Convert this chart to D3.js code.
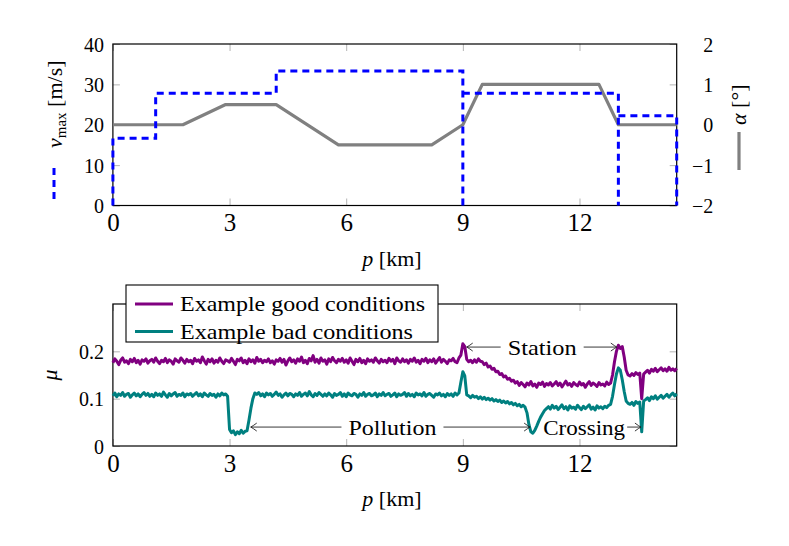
<!DOCTYPE html>
<html><head><meta charset="utf-8">
<script src="https://cdn.jsdelivr.net/npm/d3@7"></script>
<style>
body{margin:0;background:#fff}
svg{display:block}
text{font-family:"Liberation Serif","Times New Roman",serif;fill:#000}
</style>
</head><body>
<svg id="chart" width="789" height="546"></svg>
<script>
// ---------------- data ----------------
const xTicks = [0, 3, 6, 9, 12];
const vmaxTicks = [0, 10, 20, 30, 40];
const alphaTicks = [-2, -1, 0, 1, 2];
const muTicks = [0, 0.1, 0.2];

// speed limit profile (m/s) – step function (null = pen up)
const vmaxP = [0, 0, 1.1, 1.1, 4.2, 4.2, 9, 9, 9, 9, 13, 13, 13, 13, 14.5, 14.5];
const vmaxV = [0, 16.67, 16.67, 27.78, 27.78, 33.33, 33.33, 0, null, 27.78, 27.78, 0, null, 22.22, 22.22, 0];

// slope profile (degrees)
const alphaP = [0, 1.8, 2.9, 4.2, 5.8, 8.2, 9.0, 9.5, 12.5, 13.0, 14.5];
const alphaV = [0, 0, 0.5, 0.5, -0.5, -0.5, 0, 1, 1, 0, 0];

// friction coefficient samples, every 0.05 km from 0 to 14.5 km
const muStepKm = 0.05;
const muGood = [
.176,.184,.179,.172,.181,.186,.177,.180,.174,.183,.178,.185,.176,.181,.173,.182,.179,.184,.175,.180,
.183,.177,.186,.179,.174,.181,.178,.185,.176,.182,.179,.173,.184,.180,.177,.186,.181,.175,.183,.178,
.181,.174,.185,.179,.182,.176,.188,.180,.173,.183,.178,.184,.175,.181,.177,.186,.179,.174,.182,.180,
.177,.185,.179,.172,.183,.180,.186,.176,.181,.174,.184,.178,.182,.175,.187,.179,.183,.176,.181,.178,
.184,.176,.180,.173,.182,.179,.185,.177,.183,.171,.180,.186,.178,.182,.175,.184,.179,.188,.176,.181,
.174,.185,.180,.191,.177,.183,.175,.186,.179,.182,.173,.184,.178,.187,.180,.176,.183,.179,.185,.177,
.182,.175,.186,.179,.172,.183,.178,.185,.176,.181,.174,.184,.179,.182,.177,.186,.180,.175,.183,.178,
.181,.176,.185,.179,.183,.174,.186,.180,.177,.184,.178,.182,.175,.183,.179,.186,.177,.181,.174,.183,
.179,.185,.176,.182,.178,.184,.175,.181,.187,.177,.183,.179,.174,.182,.180,.185,.178,.176,.186,.192,
.216,.210,.183,
.178,.181,.176,.182,.177,.184,.179,
.178,.172,.175,.167,.169,.162,.164,.157,.158,.151,.153,.146,.148,.141,.143,.137,.139,.133,.136,
.128,.134,.130,.125,.133,.129,.136,.127,.131,.124,.133,.130,.135,.126,.132,.129,.134,.127,.131,.136,
.128,.133,.125,.131,.137,.129,.132,.126,.134,.130,.127,.135,.129,.132,.124,.131,.136,.128,.133,.130,
.126,.134,.129,.131,.127,.135,.130,.133,
.150,.178,.200,.213,.206,.210,.188,.160,.150,
.148,.153,.149,.155,.151,.154,
.100,.152,
.156,.160,.154,.162,.158,.164,.157,.161,.165,.159,.163,.158,.166,.160,.163,.159,.164
];
const muBad = [
.106,.112,.104,.110,.107,.113,.105,.109,.111,.103,.108,.112,.106,.110,.104,.109,.113,.107,.111,.105,
.109,.104,.112,.107,.110,.105,.114,.108,.103,.111,.106,.110,.113,.105,.109,.107,.112,.104,.110,.108,
.111,.105,.109,.113,.106,.110,.104,.112,.108,.105,.111,.107,.109,.103,.110,.106,.112,.108,.110,
.105,.035,.028,.032,.024,.030,.026,.033,.027,.031,.032,.055,.080,.100,.112,
.109,.113,.106,.110,.104,.112,.108,.111,.105,.109,.114,.107,.110,.103,.108,.112,.106,.111,.109,.104,
.110,.107,.113,.105,.109,.112,.106,.115,.108,.104,.111,.107,.113,.109,.105,.110,.106,.112,.108,.103,
.111,.107,.109,.113,.105,.110,.104,.112,.108,.106,.111,.109,.103,.110,.107,.113,.105,.109,.111,.106,
.108,.112,.104,.110,.107,.113,.106,.109,.111,.105,.108,.112,.104,.110,.107,.109,.113,.105,.111,.106,
.109,.104,.112,.108,.110,.106,.113,.105,.109,.111,.107,.103,.110,.108,.112,.106,.109,.104,.111,.107,
.110,.105,.112,.108,.112,.135,.157,.148,.108,
.106,.102,.107,.103,.105,.100,.104,.099,.103,.098,.101,.097,.100,.095,.098,.094,.097,.092,.095,.091,
.094,.089,.092,.087,.090,.085,.088,.083,.086,.082,
.070,.045,.030,.027,.033,.042,.052,.061,.068,.075,.079,
.083,.078,.086,.080,.084,.077,.082,.087,.079,.083,.076,.085,.080,.082,.078,.086,.081,.077,.084,.079,
.083,.087,.078,.082,.076,.085,.080,.083,.079,.084,.081,.086,
.088,.105,.130,.152,.165,.160,.140,.115,.095,.090,
.088,.092,.086,.094,.090,.093,
.030,.095,
.098,.102,.096,.104,.100,.106,.099,.103,.107,.101,.105,.109,.103,.108,.112,.106,.110
];
const legendLabels = ["Example good conditions", "Example bad conditions"];

// annotations: label, text centre (km), level (mu), arrow tips (km)
const annLabels = ["Station", "Pollution", "Crossing"];
const annCenter = [11.04, 7.19, 12.12];
const annMu = [0.209, 0.040, 0.040];
const annLeftTip = [9.10, 3.545, null];
const annRightTip = [12.96, 10.73, 13.58];

// ---------------- layout ----------------
const svg = d3.select("#chart");
const L = 112.9, R = 676.7;
const top1 = 44, bot1 = 205.5;
const top2 = 304, bot2 = 446;
const serif = '"Liberation Serif","Times New Roman",serif';
const tickGray = "#b4b4b4";

const x = d3.scaleLinear([0, 14.5], [L, R]);
const yV = d3.scaleLinear([0, 40], [bot1, top1]);
const yA = d3.scaleLinear([-2, 2], [bot1, top1]);
const yM = d3.scaleLinear([0, 0.3], [bot2, top2]);

function styleAxis(g, fs) {
  g.attr("font-family", serif);
  g.select(".domain").remove();
  g.selectAll(".tick line").attr("stroke", tickGray).attr("stroke-width", 1);
  g.selectAll(".tick text").attr("font-size", fs).attr("fill", "#000");
}

function xAxes(topY, botY) {
  const gb = svg.append("g").attr("transform", `translate(0,${botY})`)
    .call(d3.axisBottom(x).tickValues(xTicks).tickSize(-7).tickFormat(d3.format("d")));
  styleAxis(gb, 25);
  gb.selectAll(".tick text").attr("dy", null).attr("y", 25.5);
  const gt = svg.append("g").attr("transform", `translate(0,${topY})`)
    .call(d3.axisTop(x).tickValues(xTicks).tickSize(-7).tickFormat(""));
  styleAxis(gt, 25);
}

// ---- top panel ----
xAxes(top1, bot1);
const gl = svg.append("g").attr("transform", `translate(${L},0)`)
  .call(d3.axisLeft(yV).tickValues(vmaxTicks).tickSize(-7).tickPadding(9).tickFormat(d3.format("d")));
styleAxis(gl, 20);
gl.selectAll(".tick text").attr("dy", null).attr("y", 7);

const gr = svg.append("g").attr("transform", `translate(${R},0)`)
  .call(d3.axisRight(yA).tickValues(alphaTicks).tickSize(-7).tickFormat(d3.format("d")));
styleAxis(gr, 20);
gr.selectAll(".tick text").attr("dy", null).attr("y", 7).attr("x", 36.5).attr("text-anchor", "end");

svg.append("rect").attr("x", L).attr("y", top1).attr("width", R - L).attr("height", bot1 - top1)
  .attr("fill", "none").attr("stroke", "#000").attr("stroke-width", 1.2);

const idxA = d3.range(alphaP.length);
svg.append("path")
  .attr("d", d3.line().x(i => x(alphaP[i])).y(i => yA(alphaV[i]))(idxA))
  .attr("fill", "none").attr("stroke", "#808080").attr("stroke-width", 3.2).attr("stroke-linejoin", "round");

const idxV = d3.range(vmaxP.length);
svg.append("path")
  .attr("d", d3.line().defined(i => vmaxV[i] !== null).x(i => x(vmaxP[i])).y(i => yV(vmaxV[i]))(idxV))
  .attr("fill", "none").attr("stroke", "#0000ff").attr("stroke-width", 3).attr("stroke-dasharray", "7,5");

// x label
function xLabel(yb) {
  const t = svg.append("text").attr("x", 392).attr("y", yb).attr("text-anchor", "middle").attr("font-size", 22);
  t.append("tspan").attr("font-style", "italic").text("p");
  t.append("tspan").text(" [km]");
}
xLabel(266);

// left y label with legend line
const vl = svg.append("text").attr("transform", "translate(62,148) rotate(-90)").attr("font-size", 22);
vl.append("tspan").attr("font-style", "italic").text("v");
vl.append("tspan").attr("font-size", 15).attr("dy", 4).text("max");
vl.append("tspan").attr("dy", -4).text(" [m/s]");
svg.append("line").attr("x1", 54).attr("x2", 54).attr("y1", 199).attr("y2", 165)
  .attr("stroke", "#0000ff").attr("stroke-width", 3).attr("stroke-dasharray", "7,5");

// right y label with legend line
const al = svg.append("text").attr("transform", "translate(746,125) rotate(-90)").attr("font-size", 22);
al.append("tspan").attr("font-style", "italic").text("α");
al.append("tspan").text(" [°]");
svg.append("line").attr("x1", 739).attr("x2", 739).attr("y1", 132).attr("y2", 170)
  .attr("stroke", "#808080").attr("stroke-width", 3.2);

// ---- bottom panel ----
xAxes(top2, bot2);
const gl2 = svg.append("g").attr("transform", `translate(${L},0)`)
  .call(d3.axisLeft(yM).tickValues(muTicks).tickSize(-7).tickPadding(9).tickFormat(d => String(d)));
styleAxis(gl2, 20);
gl2.selectAll(".tick text").attr("dy", null).attr("y", 7);
const gr2 = svg.append("g").attr("transform", `translate(${R},0)`)
  .call(d3.axisRight(yM).tickValues(muTicks).tickSize(-7).tickFormat(""));
styleAxis(gr2, 20);

svg.append("rect").attr("x", L).attr("y", top2).attr("width", R - L).attr("height", bot2 - top2)
  .attr("fill", "none").attr("stroke", "#000").attr("stroke-width", 1.2);

const muLine = arr => d3.line().x((d, i) => x(i * muStepKm)).y(d => yM(d))(arr);
svg.append("path").attr("d", muLine(muGood)).attr("fill", "none").attr("stroke", "#800080")
  .attr("stroke-width", 3).attr("stroke-linejoin", "round");
svg.append("path").attr("d", muLine(muBad)).attr("fill", "none").attr("stroke", "#008080")
  .attr("stroke-width", 3).attr("stroke-linejoin", "round");

xLabel(506);
svg.append("text").attr("transform", "translate(57,375) rotate(-90)").attr("text-anchor", "middle")
  .attr("font-size", 22).attr("font-style", "italic").text("μ");

// annotations
const annWidth = [69, 88, 82];
const arrowCol = "#222";
function arrowHead(tx, ty, dir) {
  svg.append("path")
    .attr("d", `M${tx - dir * 6},${ty - 4} Q${tx - dir * 2},${ty - 1} ${tx},${ty} Q${tx - dir * 2},${ty + 1} ${tx - dir * 6},${ty + 4}`)
    .attr("fill", "none").attr("stroke", arrowCol).attr("stroke-width", 0.9);
}
annLabels.forEach((lab, i) => {
  const cx = x(annCenter[i]), cy = yM(annMu[i]);
  const w = annWidth[i], pad = 7;
  svg.append("text").attr("x", cx).attr("y", cy + 8).attr("text-anchor", "middle")
    .attr("font-size", 21).attr("textLength", w).attr("lengthAdjust", "spacingAndGlyphs").text(lab);
  if (annLeftTip[i] !== null) {
    const tx = x(annLeftTip[i]);
    svg.append("line").attr("x1", cx - w / 2 - pad).attr("x2", tx).attr("y1", cy).attr("y2", cy)
      .attr("stroke", arrowCol).attr("stroke-width", 0.9);
    arrowHead(tx, cy, -1);
  }
  if (annRightTip[i] !== null) {
    const tx = x(annRightTip[i]);
    svg.append("line").attr("x1", cx + w / 2 + (i === 2 ? 2 : pad)).attr("x2", tx).attr("y1", cy).attr("y2", cy)
      .attr("stroke", arrowCol).attr("stroke-width", 0.9);
    arrowHead(tx, cy, 1);
  }
});

// legend
const lg = svg.append("g");
lg.append("rect").attr("x", 126).attr("y", 285).attr("width", 312).attr("height", 57)
  .attr("fill", "#fff").attr("stroke", "#000").attr("stroke-width", 1.1);
const legCols = ["#800080", "#008080"];
const legW = [245, 233];
legendLabels.forEach((lab, i) => {
  const yy = 304 + i * 27.5;
  lg.append("line").attr("x1", 135).attr("x2", 173).attr("y1", yy).attr("y2", yy)
    .attr("stroke", legCols[i]).attr("stroke-width", 3);
  lg.append("text").attr("x", 180).attr("y", yy + 7).attr("font-size", 21)
    .attr("textLength", legW[i]).attr("lengthAdjust", "spacingAndGlyphs").text(lab);
});
</script>
</body></html>
